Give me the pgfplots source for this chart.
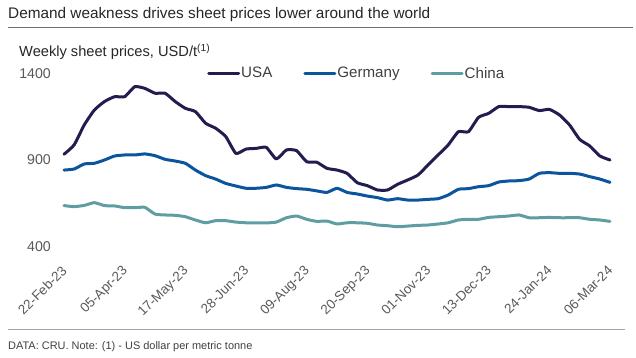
\documentclass[border=0pt]{standalone}
\usepackage{pgfplots}
\pgfplotsset{compat=1.18}
\usepackage{fontspec}
\setmainfont{Liberation Sans}
\definecolor{usa}{HTML}{221D4F}
\definecolor{ger}{HTML}{0B559E}
\definecolor{chn}{HTML}{5E9EA2}
\definecolor{txt}{HTML}{404040}
\definecolor{tickc}{HTML}{595959}
\definecolor{rule1}{HTML}{6E6E6E}
\definecolor{rule2}{HTML}{A3A2B5}

\pgfplotstableread{
wk usa ger chn
0 933 842 637
1 987 848 631
2 1102 877 638
3 1188 881 654
4 1237 900 637
5 1265 923 635
6 1265 929 625
7 1323 929 625
8 1313 935 627
9 1285 925 588
10 1285 904 583
11 1237 894 581
12 1198 881 573
13 1179 842 554
14 1112 810 538
15 1083 790 550
16 1035 765 550
17 938 750 542
18 963 737 538
19 967 737 538
20 973 742 537
21 906 756 542
22 958 742 567
23 954 735 577
24 890 731 558
25 887 722 546
26 852 713 548
27 842 737 531
28 823 713 538
29 769 704 538
30 752 692 535
31 727 683 525
32 727 669 521
33 760 677 515
34 785 669 519
35 813 669 523
36 871 673 525
37 929 677 531
38 987 698 538
39 1063 731 554
40 1063 735 558
41 1146 746 558
42 1169 752 569
43 1208 773 573
44 1208 779 577
45 1208 781 583
46 1204 790 567
47 1185 823 567
48 1192 827 569
49 1160 823 567
50 1102 823 567
51 1019 819 567
52 981 804 558
53 923 790 554
54 900 771 546
}\prices

\begin{document}
\begin{tikzpicture}
\begin{axis}[
  at={(64bp,111.3bp)}, anchor=south west,
  scale only axis, width=546bp, height=173.4bp,
  xmin=0, xmax=54, ymin=400, ymax=1400,
  axis x line=bottom, axis y line=left, axis line style={draw=none},
  tick style={draw=none}, major tick length=0pt,
  xtick={0,6,...,54},
  xticklabels={22-Feb-23,05-Apr-23,17-May-23,28-Jun-23,09-Aug-23,20-Sep-23,01-Nov-23,13-Dec-23,24-Jan-24,06-Mar-24},
  ytick={400,900,1400},
  /pgf/number format/assume math mode=true,
  /pgf/number format/1000 sep={},
  xticklabel style={font=\fontsize{13.5}{14}\selectfont, text=tickc, rotate=45, anchor=north east, inner sep=0pt, yshift=-10.3bp, xshift=-15bp},
  yticklabel style={font=\fontsize{14.2}{15}\selectfont, text=tickc, anchor=east, inner sep=0pt, xshift=-13bp},
  clip=false,
  legend columns=3,
  legend cell align=left,
  legend image code/.code={\draw[#1] (0bp,0bp) -- (30bp,0bp);},
  legend style={draw=none, fill=none, at={(0.262,1)}, anchor=west, inner sep=0pt,
    font=\fontsize{15.2}{16}\selectfont, text=txt,
    nodes={inner sep=1bp},
    /tikz/every even column/.append style={column sep=30bp}},
  every axis plot/.append style={line width=3bp, line join=round, line cap=round},
]
\addplot[usa, smooth, tension=0.3] table[x=wk, y=usa] {\prices};
\addlegendentry{USA}
\addplot[ger, smooth, tension=0.3] table[x=wk, y=ger] {\prices};
\addlegendentry{Germany}
\addplot[chn, smooth, tension=0.3] table[x=wk, y=chn] {\prices};
\addlegendentry{China}
\end{axis}
\node[anchor=base west, inner sep=0pt, font=\fontsize{15.4}{17}\selectfont, text=black!85] at (8bp,339bp) {Demand weakness drives sheet prices lower around the world};
\draw[rule1, line width=0.9bp] (8bp,330.5bp) -- (633bp,330.5bp);
\node[anchor=base west, inner sep=0pt, font=\fontsize{14.7}{16}\selectfont, text=black!85] at (19bp,301bp) {Weekly sheet prices, USD/t\textsuperscript{(1)}};
\draw[rule2, line width=0.9bp] (8bp,28.5bp) -- (625bp,28.5bp);
\node[anchor=base west, inner sep=0pt, font=\fontsize{11}{13}\selectfont, text=txt] at (8bp,8.5bp) {DATA: CRU. Note: (1) - US dollar per metric tonne};
\pgfresetboundingbox
\path[use as bounding box] (0bp,0bp) rectangle (636bp,358bp);
\end{tikzpicture}
\end{document}
